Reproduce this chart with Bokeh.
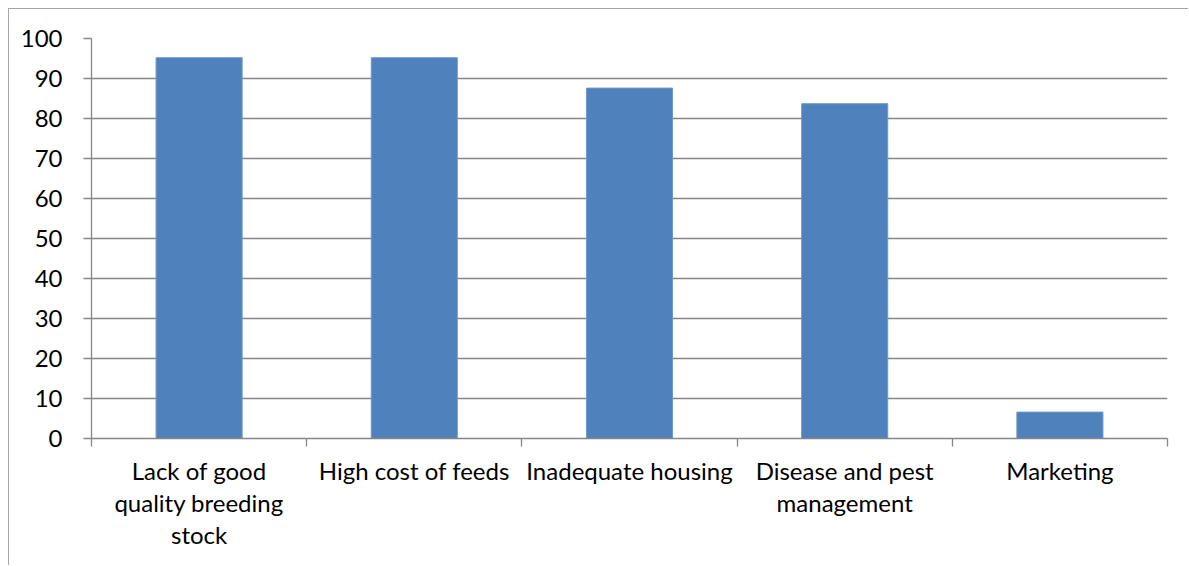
from bokeh.plotting import figure
from bokeh.models import FixedTicker, Range1d, ColumnDataSource
from bokeh.embed import file_html
from bokeh.resources import INLINE

categories = ["Lack of good quality breeding stock", "High cost of feeds",
              "Inadequate housing", "Disease and pest management", "Marketing"]
tick_labels = ["Lack of good\nquality breeding\nstock", "High cost of feeds",
               "Inadequate housing", "Disease and pest\nmanagement", "Marketing"]
values = [95.2, 95.2, 87.6, 83.7, 6.6]
y_ticks = [0, 10, 20, 30, 40, 50, 60, 70, 80, 90, 100]

centers = [i + 0.5 for i in range(len(categories))]
bounds = [i for i in range(len(categories) + 1)]

src = ColumnDataSource(dict(x=centers, top=values, cat=categories))

GRID = "#868686"
FONT = "Lato"

p = figure(width=1180, height=557, output_backend="svg", toolbar_location=None,
           x_range=Range1d(0, len(categories)), y_range=Range1d(0, 100),
           min_border_left=82, min_border_right=22, min_border_top=29, min_border_bottom=128,
           styles={"margin-left": "8px", "margin-top": "8px",
                   "border-left": "1px solid #a6a6a6", "border-top": "1px solid #a6a6a6"})
p.outline_line_color = None
p.background_fill_color = "white"
p.border_fill_color = "white"

p.vbar(x="x", top="top", bottom=0, width=0.4, source=src,
       fill_color="#4F81BD", line_color="#6f97c9", line_width=1)

p.xgrid.visible = False
p.ygrid.ticker = FixedTicker(ticks=y_ticks)
p.ygrid.grid_line_color = GRID
p.ygrid.grid_line_width = 1.3

xa = p.xaxis[0]
xa.ticker = FixedTicker(ticks=centers, minor_ticks=bounds)
xa.major_label_overrides = {c: t for c, t in zip(centers, tick_labels)}
xa.major_tick_out = 0
xa.major_tick_in = 0
xa.minor_tick_out = 8
xa.minor_tick_in = 0
xa.minor_tick_line_color = GRID
xa.minor_tick_line_width = 1.3
xa.axis_line_color = GRID
xa.axis_line_width = 1.3
xa.major_label_standoff = 9
xa.major_label_text_font = FONT
xa.major_label_text_font_size = "24px"
xa.major_label_text_color = "black"
xa.major_label_text_line_height = 1.12

ya = p.yaxis[0]
ya.ticker = FixedTicker(ticks=y_ticks)
ya.major_tick_out = 8
ya.major_tick_in = 0
ya.minor_tick_line_color = None
ya.major_tick_line_color = GRID
ya.major_tick_line_width = 1.3
ya.axis_line_color = GRID
ya.axis_line_width = 1.3
ya.major_label_standoff = 21
ya.major_label_text_font = FONT
ya.major_label_text_font_size = "24px"
ya.major_label_text_color = "black"

open("out.html", "w").write(file_html(p, INLINE))
